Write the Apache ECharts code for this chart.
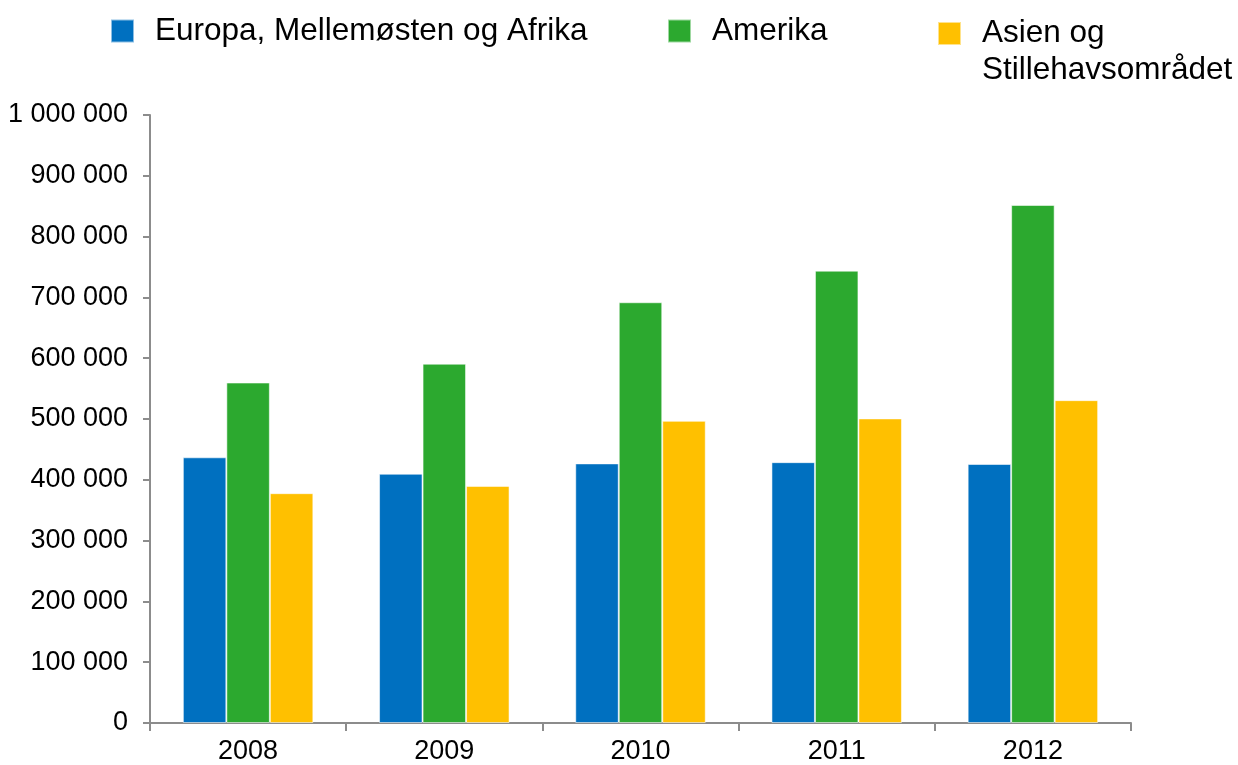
<!DOCTYPE html>
<html>
<head>
<meta charset="utf-8">
<script src="https://cdn.jsdelivr.net/npm/echarts@6/dist/echarts.min.js"></script>
<style>
  html, body { margin: 0; padding: 0; background: #fff; }
  #chart { width: 1238px; height: 765px; }
</style>
</head>
<body>
<div id="chart"></div>
<script>
// ==============================
// 데이터
// ==============================
const years = ['2008', '2009', '2010', '2011', '2012'];
const seriesNames = ['Europa, Mellemøsten og Afrika', 'Amerika', 'Asien og Stillehavsområdet'];
const emea = [437000, 410000, 427000, 429000, 426000];
const amerika = [560000, 591000, 692000, 744000, 852000];
const apac = [378000, 390000, 497000, 501000, 531000];

const colors = ['#0070C0', '#2CA92F', '#FFC000'];
const font = 'Liberation Sans, Arial, sans-serif';

const chart = echarts.init(document.getElementById('chart'));

function legendFor(name, left, top, extra) {
  return Object.assign({
    data: [name],
    left: left,
    top: top,
    padding: 0,
    icon: 'rect',
    itemWidth: 23,
    itemHeight: 23,
    selectedMode: false,
    textStyle: {
      color: '#000',
      fontSize: 31.5,
      fontFamily: font,
      padding: [0, 0, 0, 16]
    }
  }, extra || {});
}

const series = [emea, amerika, apac].map((data, i) => ({
  name: seriesNames[i],
  type: 'bar',
  barWidth: 43.5,
  barGap: 0,
  data: data,
  itemStyle: {
    color: colors[i],
    borderColor: 'rgba(255,255,255,0.55)',
    borderWidth: 1
  }
}));

chart.setOption({
  animation: false,
  color: colors,
  legend: [
    legendFor(seriesNames[0], 110, 15),
    legendFor(seriesNames[1], 667, 15),
    // 두 줄 라벨: 아이콘 정사각형을 위쪽에 두고 높이를 늘려 첫 줄과 맞춤
    legendFor(seriesNames[2], 937, 15, {
      icon: 'path://M0,0H23V23H0Z M0,60H23V60H0Z',
      itemHeight: 60,
      formatter: () => 'Asien og\nStillehavsområdet',
      textStyle: {
        color: '#000',
        fontSize: 31.5,
        fontFamily: font,
        lineHeight: 37,
        padding: [0, 0, 0, 16]
      }
    })
  ],
  grid: {
    left: 150,
    right: 107,
    top: 115,
    bottom: 42,
    containLabel: false,
    outerBoundsMode: 'none'
  },
  xAxis: {
    type: 'category',
    data: years,
    axisLine: { lineStyle: { color: '#8C8C8C', width: 2 } },
    axisTick: { show: true, length: 8, lineStyle: { color: '#8C8C8C', width: 2 } },
    axisLabel: {
      color: '#000',
      fontSize: 27,
      fontFamily: font,
      margin: 15
    }
  },
  yAxis: {
    type: 'value',
    min: 0,
    max: 1000000,
    interval: 100000,
    axisLine: { show: true, lineStyle: { color: '#8C8C8C', width: 2 } },
    axisTick: { show: true, length: 7, lineStyle: { color: '#8C8C8C', width: 2 } },
    splitLine: { show: false },
    axisLabel: {
      color: '#000',
      fontSize: 27,
      fontFamily: font,
      margin: 22,
      formatter: v => String(v).replace(/\B(?=(\d{3})+(?!\d))/g, ' ')
    }
  },
  series
});
</script>
</body>
</html>
